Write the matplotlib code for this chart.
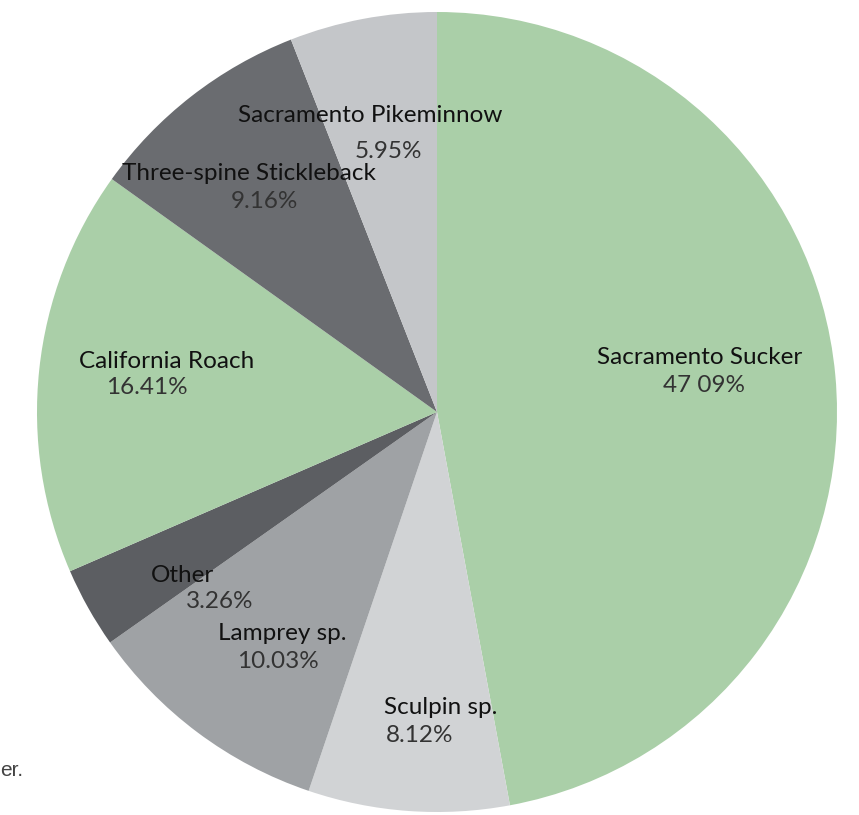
import matplotlib
matplotlib.use("Agg")
import matplotlib.pyplot as plt

species = ["Sacramento Sucker", "Sculpin sp.", "Lamprey sp.", "Other",
           "California Roach", "Three-spine Stickleback", "Sacramento Pikeminnow"]
shares = [47.09, 8.12, 10.03, 3.26, 16.41, 9.16, 5.95]
pct_labels = ["47 09%", "8.12%", "10.03%", "3.26%", "16.41%", "9.16%", "5.95%"]
colors = ["#aacfa8", "#d1d3d5", "#9fa2a5", "#5c5e62", "#aacfa8", "#6a6c70", "#c4c6c9"]

# label positions in pixels (name centre, percent centre)
name_pos = [(700, 357), (441, 707), (282, 633), (183, 575), (167, 362), (249, 173), (370, 116)]
pct_pos = [(704, 386), (420, 736), (278, 662), (220, 601), (147, 388), (264, 201), (388, 152)]

plt.rcParams['font.family'] = ['Lato', 'DejaVu Sans']

fig = plt.figure(figsize=(8.59, 8.15), dpi=100)
ax = fig.add_axes([0, 0, 1, 1])

# y axis is flipped below, so counterclock=True draws clockwise on screen
ax.pie(shares, colors=colors, startangle=-90, counterclock=True,
       center=(437, 412), radius=400, frame=True,
       wedgeprops=dict(linewidth=0))
ax.set_xlim(0, 859)
ax.set_ylim(815, 0)
ax.set_aspect("equal")
ax.axis("off")

for i in range(len(species)):
    ax.text(name_pos[i][0], name_pos[i][1], species[i], ha="center", va="center",
            fontsize=17.5, color="#111111")
    ax.text(pct_pos[i][0], pct_pos[i][1], pct_labels[i], ha="center", va="center",
            fontsize=17.5, color="#333333")

ax.text(0, 770, "er.", ha="left", va="center", fontsize=15, color="#444444",
        family="Liberation Sans")

fig.savefig("out.png", dpi=100)
